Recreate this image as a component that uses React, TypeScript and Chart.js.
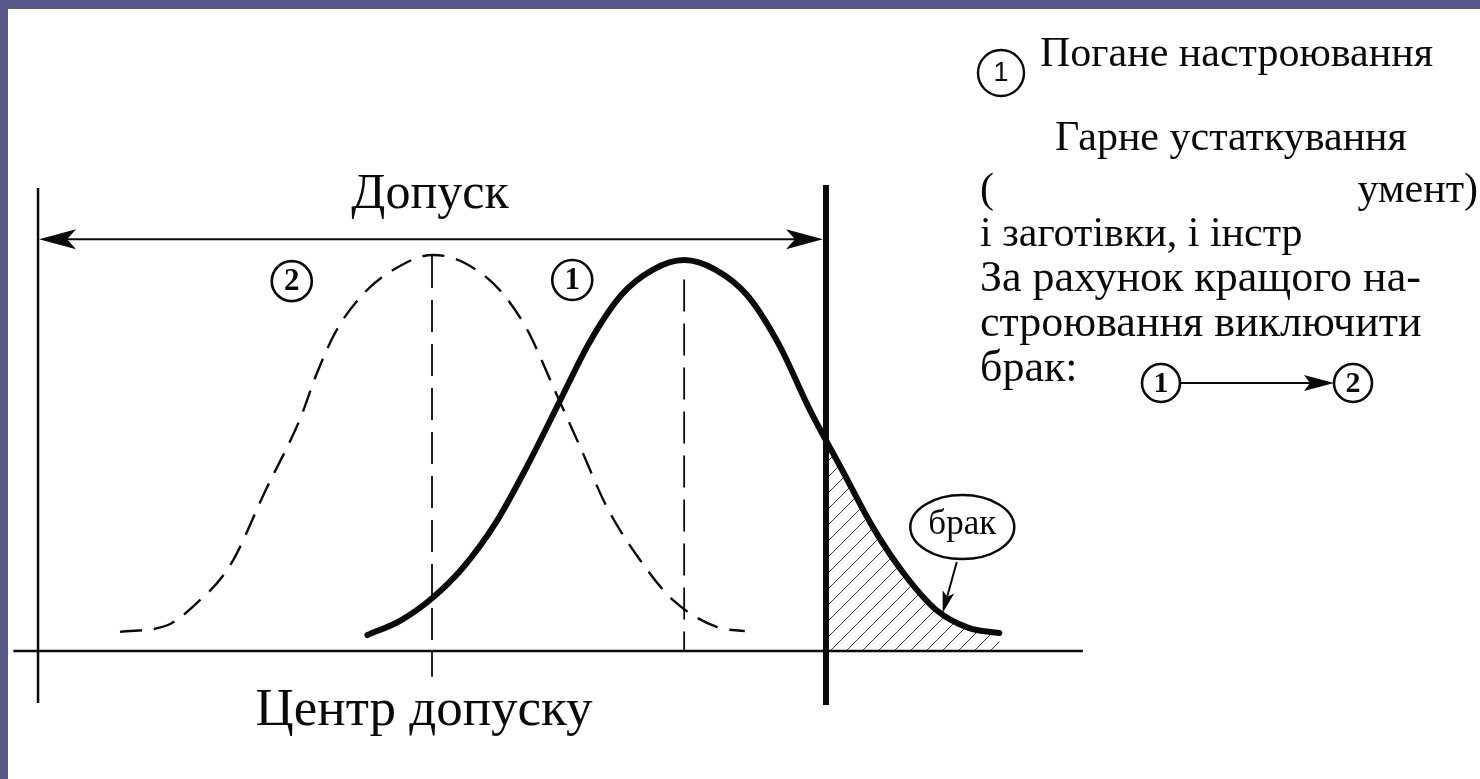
import { useEffect, useRef } from "react";
import { Chart, registerables } from "chart.js";

Chart.register(...registerables);

// Size axis: lower tolerance limit at 0, upper limit at 100
const toleranceLow = 0;
const toleranceHigh = 100;
const toleranceCenter = 50;
const shiftedMean = 82;

// Curve 1 – poor set-up (distribution shifted towards the upper limit)
const badSetupX = [41.8, 46, 50, 54, 58, 62, 66, 70, 74, 78, 82, 86, 90, 94, 98, 102, 106, 110, 114, 118, 122];
const badSetupY = [4.1, 7.8, 13.5, 21.5, 32.5, 47, 63, 79, 91, 97.5, 100, 97.5, 91, 78.5, 61.5, 46.5, 31.5, 19.5, 10.5, 6, 4.6];

// Curve 2 – good set-up (distribution centred in the tolerance band)
const goodSetupX = [10.4, 16.4, 19.9, 24.4, 28.9, 33.2, 35.4, 37.9, 41.5, 45.0, 50.1, 53.9, 58.6, 62.1, 65.4, 68.8, 72.2, 76.4, 80.6, 86.2, 89.7];
const goodSetupY = [4.9, 6.6, 11.8, 22.0, 41.2, 59.1, 71.1, 82.1, 91.8, 97.4, 101.3, 99.5, 92.3, 82.1, 67.5, 52.2, 36.8, 23.3, 13.0, 6.1, 5.1];

const toleranceTitle = "Допуск";
const centerTitle = "Центр допуску";
const scrapTitle = "брак";
const noteLines = [
  "За рахунок кращого на-",
  "строювання виключити",
  "брак:",
];

const SERIF = '"Liberation Serif", "Times New Roman", serif';
const SANS = '"Liberation Sans", Arial, sans-serif';
const INK = "#0a0a0a";

function arrowHead(ctx: CanvasRenderingContext2D, tx: number, ty: number, angle: number, len: number, half: number, notch: number) {
  ctx.save();
  ctx.translate(tx, ty);
  ctx.rotate(angle);
  ctx.beginPath();
  ctx.moveTo(0, 0);
  ctx.lineTo(-len, -half);
  ctx.lineTo(-len + notch, 0);
  ctx.lineTo(-len, half);
  ctx.closePath();
  ctx.fill();
  ctx.restore();
}

function badge(ctx: CanvasRenderingContext2D, cx: number, cy: number, r: number, text: string, font: string, lw: number) {
  ctx.save();
  ctx.lineWidth = lw;
  ctx.beginPath();
  ctx.arc(cx, cy, r, 0, Math.PI * 2);
  ctx.stroke();
  ctx.font = font;
  ctx.textAlign = "center";
  ctx.textBaseline = "middle";
  ctx.fillText(text, cx, cy + 1);
  ctx.restore();
}

function vline(ctx: CanvasRenderingContext2D, x: number, y1: number, y2: number, lw: number, dash: number[] = []) {
  ctx.save();
  ctx.lineWidth = lw;
  ctx.setLineDash(dash);
  ctx.beginPath();
  ctx.moveTo(x, y1);
  ctx.lineTo(x, y2);
  ctx.stroke();
  ctx.restore();
}

const diagramPlugin = {
  id: "diagram",
  beforeDatasetsDraw(chart: any) {
    const { ctx, chartArea, scales } = chart;
    const x = scales.x;
    const y = scales.y;
    const y0 = y.getPixelForValue(0);
    const xCut = x.getPixelForValue(toleranceHigh);

    // hatched scrap area under curve 1 beyond the upper limit
    const meta = chart.getDatasetMeta(1);
    const line: any = meta.dataset;
    const pts = meta.data;
    line.updateControlPoints(chartArea, "x");
    ctx.save();
    ctx.beginPath();
    ctx.rect(xCut, chartArea.top, chartArea.right - xCut, y0 - chartArea.top);
    ctx.clip();
    ctx.beginPath();
    line.path(ctx);
    ctx.lineTo(pts[pts.length - 1].x, y0);
    ctx.lineTo(pts[0].x, y0);
    ctx.closePath();
    ctx.clip();
    ctx.strokeStyle = "#3a3a3a";
    ctx.lineWidth = 1;
    ctx.beginPath();
    for (let c = xCut - 300; c < chartArea.right; c += 16) {
      ctx.moveTo(c, y0);
      ctx.lineTo(c + 300, y0 - 300);
    }
    ctx.stroke();
    ctx.restore();

    // size axis
    ctx.save();
    ctx.strokeStyle = INK;
    ctx.lineWidth = 2.5;
    ctx.beginPath();
    ctx.moveTo(chartArea.left - 1, y0);
    ctx.lineTo(x.getPixelForValue(132.6), y0);
    ctx.stroke();
    ctx.restore();
  },
  afterDatasetsDraw(chart: any) {
    const { ctx, scales } = chart;
    const x = scales.x;
    const y = scales.y;
    const px = (v: number) => x.getPixelForValue(v);
    const py = (v: number) => y.getPixelForValue(v);

    ctx.save();
    ctx.strokeStyle = INK;
    ctx.fillStyle = INK;

    // tolerance limits
    vline(ctx, px(toleranceLow), py(118.4), py(-13.3), 2.5);
    vline(ctx, px(toleranceHigh), py(119.2), py(-13.8), 6);

    // centre of tolerance and mean of curve 1
    vline(ctx, px(toleranceCenter), py(101), py(-6.6), 1.8, [32, 12]);
    vline(ctx, px(shiftedMean), py(95), py(0), 1.8, [32, 12]);

    // tolerance dimension arrow
    const ya = py(105.3);
    ctx.lineWidth = 2;
    ctx.beginPath();
    ctx.moveTo(px(toleranceLow) + 10, ya);
    ctx.lineTo(px(toleranceHigh) - 10, ya);
    ctx.stroke();
    arrowHead(ctx, px(toleranceLow) + 1, ya, Math.PI, 37, 10, 9);
    arrowHead(ctx, px(toleranceHigh) - 3, ya, 0, 37, 10, 9);

    ctx.textAlign = "center";
    ctx.textBaseline = "alphabetic";
    ctx.font = `50px ${SERIF}`;
    ctx.fillText(toleranceTitle, px(toleranceCenter) - 2, 208);
    ctx.font = `53px ${SERIF}`;
    ctx.fillText(centerTitle, px(toleranceCenter) - 8, 725);

    // curve markers
    badge(ctx, px(32.2), py(94.6), 20, "2", `bold 31px ${SERIF}`, 2.6);
    badge(ctx, px(67.8), py(94.9), 20, "1", `bold 31px ${SERIF}`, 2.6);

    // scrap callout
    const ex = px(117.3);
    const ey = py(31.7);
    ctx.lineWidth = 2.5;
    ctx.beginPath();
    ctx.ellipse(ex, ey, 52, 32, 0, 0, Math.PI * 2);
    ctx.stroke();
    ctx.font = `35px ${SERIF}`;
    ctx.textAlign = "center";
    ctx.textBaseline = "middle";
    ctx.fillText(scrapTitle, ex, ey - 2);
    const ax1 = px(116.6), ay1 = py(22.8), ax2 = px(114.8), ay2 = py(9.7);
    const ang = Math.atan2(ay2 - ay1, ax2 - ax1);
    ctx.lineWidth = 2;
    ctx.beginPath();
    ctx.moveTo(ax1, ay1);
    ctx.lineTo(ax2 - Math.cos(ang) * 10, ay2 - Math.sin(ang) * 10);
    ctx.stroke();
    arrowHead(ctx, ax2, ay2, ang, 22, 6, 5);

    // side notes
    badge(ctx, 1001, 73, 23, "1", `27px ${SANS}`, 2.4);
    ctx.textBaseline = "alphabetic";
    ctx.textAlign = "left";
    ctx.font = `42px ${SERIF}`;
    ctx.fillText("Погане настроювання", 1040, 66);
    ctx.fillText("Гарне устаткування", 1055, 150);
    ctx.fillText("(", 980, 202);
    ctx.fillText("і заготівки, і інстр", 980, 246);
    ctx.textAlign = "right";
    ctx.fillText("умент)", 1478, 202);
    ctx.textAlign = "left";
    ctx.font = `44px ${SERIF}`;
    noteLines.forEach((t, i) => ctx.fillText(t, 980, 291 + i * 45));

    // shift 1 -> 2
    badge(ctx, 1161, 383, 19, "1", `bold 30px ${SERIF}`, 2.6);
    badge(ctx, 1353, 383, 19, "2", `bold 30px ${SERIF}`, 2.6);
    ctx.lineWidth = 2;
    ctx.beginPath();
    ctx.moveTo(1180, 383);
    ctx.lineTo(1318, 383);
    ctx.stroke();
    arrowHead(ctx, 1334, 383, 0, 30, 8, 6);

    ctx.restore();
  },
};

export default function App() {
  const ref = useRef<HTMLCanvasElement>(null);

  useEffect(() => {
    const canvas = ref.current;
    if (!canvas) return;
    const chart = new Chart(canvas, {
      type: "line",
      data: {
        datasets: [
          {
            label: "Гарне устаткування",
            data: goodSetupX.map((v, i) => ({ x: v, y: goodSetupY[i] })),
            borderColor: INK,
            borderWidth: 2.4,
            borderDash: [22, 12],
            pointRadius: 0,
            cubicInterpolationMode: "monotone",
            fill: false,
          },
          {
            label: "Погане настроювання",
            data: badSetupX.map((v, i) => ({ x: v, y: badSetupY[i] })),
            borderColor: INK,
            borderWidth: 6,
            borderCapStyle: "round",
            pointRadius: 0,
            cubicInterpolationMode: "monotone",
            fill: false,
          },
        ],
      },
      options: {
        responsive: false,
        animation: false,
        events: [],
        layout: { padding: { left: 14.4, right: 394, top: 174, bottom: 69.3 } },
        scales: {
          x: { type: "linear", min: -3, max: 133, display: false },
          y: { min: -15, max: 122, display: false },
        },
        plugins: { legend: { display: false }, tooltip: { enabled: false } },
      },
      plugins: [diagramPlugin],
    } as any);
    return () => chart.destroy();
  }, []);

  return (
    <div style={{ position: "fixed", inset: 0, background: "#585a8b", overflow: "hidden" }}>
      <div style={{ position: "absolute", left: 8, top: 9, right: 0, bottom: 0, background: "#ffffff" }} />
      <canvas
        ref={ref}
        width={1480}
        height={779}
        style={{ position: "absolute", left: 0, top: 0, width: 1480, height: 779 }}
      />
    </div>
  );
}
